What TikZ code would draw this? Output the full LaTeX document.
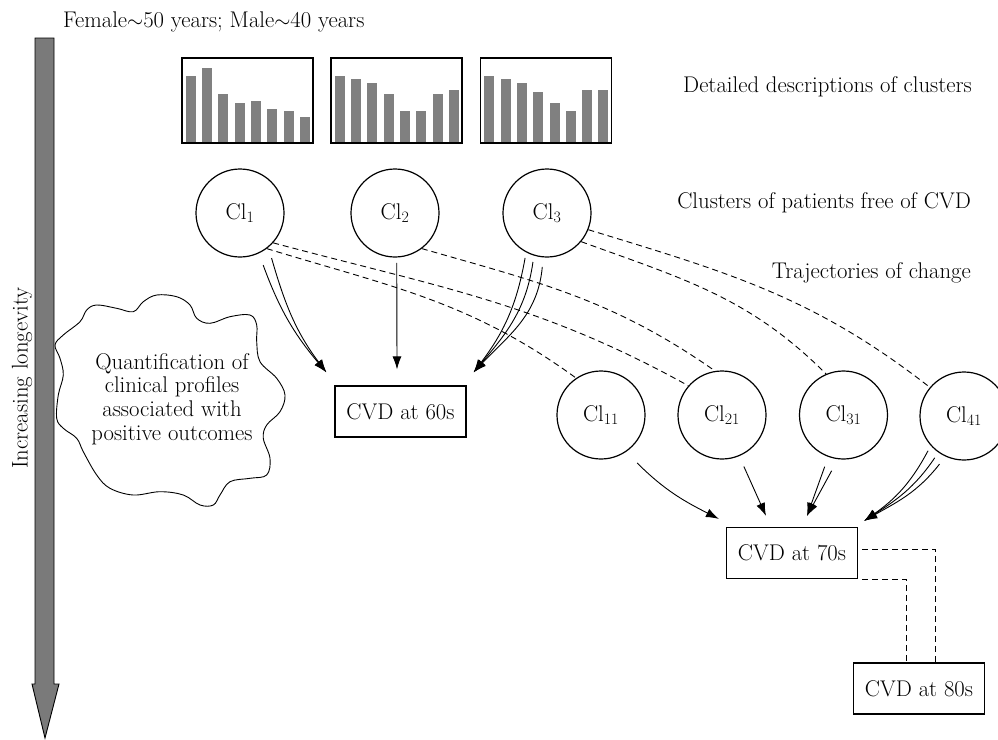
\documentclass[tikz,border=0pt]{standalone}
\usetikzlibrary{arrows.meta,calc}
\definecolor{barg}{HTML}{808080}
\definecolor{arrg}{HTML}{7A7A7A}
\newcommand\myfs{\fontsize{22.7}{23.7}\selectfont}
\begin{document}
\begin{tikzpicture}[x=1pt,y=1pt,
  every node/.style={font=\myfs},
  clus/.style={circle,draw,line width=1.2pt,minimum size=88pt,inner sep=0pt},
  cvdbox/.style={rectangle,draw,line width=1.2pt,minimum width=131pt,minimum height=51pt,inner sep=0pt},
  barbox/.style={rectangle,draw,line width=1.3pt,minimum width=131pt,minimum height=85pt,inner sep=0pt},
  traj/.style={dash pattern=on 6pt off 4pt,line width=0.9pt},
  flow/.style={line width=0.9pt,-{Latex[length=13pt,width=9pt]}},
  lab/.style={anchor=base east,inner sep=0pt}
]
\useasboundingbox (0,0) rectangle (998,-739);

% longevity arrow
\draw[fill=arrg,line width=0.9pt] (35,-38) -- (54,-38) -- (54,-684) -- (59,-684) -- (45,-738) -- (32,-684) -- (35,-684) -- cycle;
\node[rotate=90,inner sep=0pt] (longev) at (22,-378) {Increasing longevity};

% top label
\node[anchor=base west,inner sep=0pt] (toplab) at (63,-27) {Female$\sim$50 years; Male$\sim$40 years};

% bar boxes
\node[barbox] (b1) at (247.5,-100.5) {};
\node[barbox] (b2) at (396.5,-100.5) {};
\node[barbox] (b3) at (546,-100.5) {};
\foreach \h [count=\i from 0] in {67.7,75.4,49.7,40.7,42.7,34.7,32.7,27}
  \fill[barg] ($(b1.south west)+(4.5+\i*16.3,1.3)$) rectangle ++(10,\h-1.3);
\foreach \h [count=\i from 0] in {67.7,64.4,60.4,49.7,32.7,32.7,49.7,53.7}
  \fill[barg] ($(b2.south west)+(4.5+\i*16.3,1.3)$) rectangle ++(10,\h-1.3);
\foreach \h [count=\i from 0] in {67.7,64.4,60.4,51.7,40.7,32.7,53.7,53.7}
  \fill[barg] ($(b3.south west)+(4.5+\i*16.3,1.3)$) rectangle ++(10,\h-1.3);

% right labels
\node[lab] (l1) at (972,-92) {Detailed descriptions of clusters};
\node[lab] (l2) at (971,-208) {Clusters of patients free of CVD};
\node[lab] (l3) at (971,-278) {Trajectories of change};

% clusters
\node[clus] (c1) at (240,-213) {Cl\textsubscript{1}};
\node[clus] (c2) at (395,-213) {Cl\textsubscript{2}};
\node[clus] (c3) at (547,-213) {Cl\textsubscript{3}};
\node[clus] (c11) at (601,-415) {Cl\textsubscript{11}};
\node[clus] (c21) at (722,-415) {Cl\textsubscript{21}};
\node[clus] (c31) at (843.5,-415) {Cl\textsubscript{31}};
\node[clus] (c41) at (964,-416) {Cl\textsubscript{41}};

% CVD boxes
\node[cvdbox] (v60) at (400.5,-411.5) {CVD at 60s};
\node[cvdbox] (v70) at (792,-553) {CVD at 70s};
\node[cvdbox] (v80) at (919,-688.5) {CVD at 80s};

% cloud
\draw[line width=0.9pt] plot[smooth cycle, tension=0.6] coordinates {
(55,-345) (63.3,-335) (80,-321.7) (86.7,-310) (96.7,-305) (116.7,-308.3) (133.3,-311.7) (143.3,-301.7) (156.7,-295) (176.7,-296.7) (190,-305) (196.7,-318.3) (210,-323.3) (230,-316.7) (250,-315) (256.7,-325) (256.7,-341.7) (260,-361.7) (276.7,-378.3) (285,-395) (280,-411.7) (266.7,-425) (263.3,-438.3) (270,-458.3) (266.7,-475) (250,-478.3) (230,-481.7) (220,-495) (213.3,-505) (200,-505) (183.3,-495) (160,-491.7) (133.3,-495) (110,-488.3) (96.7,-475) (83.3,-451.7) (76.7,-438.3) (63.3,-428.3) (56.7,-418.3) (58.3,-395) (63.3,-375) (60,-358.3)};
\node[align=center,inner sep=0pt] (cloudtxt) at (172,-399) {Quantification of\\clinical profiles\\associated with\\positive outcomes};

% arrow tips
\coordinate (t60a) at ($(v60.north west)+(-8,13)$);
\coordinate (t60b) at ($(v60.north)+(-3.5,16)$);
\coordinate (t60c) at ($(v60.north east)+(7,13)$);
\coordinate (t70a) at ($(v70.north west)+(-7,8)$);
\coordinate (t70b) at ($(v70.north)+(-26,11)$);
\coordinate (t70c) at ($(v70.north)+(15,11)$);
\coordinate (t70d) at ($(v70.north east)+(6,6)$);

% flows to CVD at 60s
\draw[flow] ($(c1)+(-66:57)$) to[out=-70,in=130] (t60a);
\draw[flow] ($(c1)+(-55:55)$) to[out=-74,in=127] (t60a);
\draw[flow] ($(c2)+(-88:50)$) -- (t60b);
\draw[flow] ($(c3)+(-116:50)$) to[out=-100,in=53] (t60c);
\draw[flow] ($(c3)+(-106:51)$) to[out=-98,in=50] (t60c);
\draw[flow] ($(c3)+(-95:54)$) to[out=-95,in=47] (t60c);

% flows to CVD at 70s
\draw[flow] ($(c11)+(-53:60)$) to[out=-45,in=153] (t70a);
\draw[flow] ($(c21)+(-67:56)$) -- (t70b);
\draw[flow] ($(c31)+(-110:55)$) -- (t70c);
\draw[flow] ($(c31)+(-102:57)$) -- (t70c);
\draw[flow] ($(c41)+(-136:50)$) to[out=-118,in=35] (t70d);
\draw[flow] ($(c41)+(-125:51)$) to[out=-124,in=33] (t70d);
\draw[flow] ($(c41)+(-117:54)$) to[out=-128,in=30] (t70d);

% trajectories
\draw[traj] (c1.-53) to[out=-17,in=144] (c11.124);
\draw[traj] (c1.-42) to[out=-15,in=151] (c21.139);
\draw[traj] (c2.-53) to[out=-16,in=145] (c21.99);
\draw[traj] (c3.-40) to[out=-20,in=135] (c31.113);
\draw[traj] (c3.-22) to[out=-17,in=142] (c41.140);

% CVD 70 -> 80
\draw[traj] ($(v70.east)+(4,4)$) -| ($(v80.north)+(16,0)$);
\draw[traj] ($(v70.south east)+(4,0)$) -| ($(v80.north)+(-13,0)$);
\end{tikzpicture}
\end{document}
